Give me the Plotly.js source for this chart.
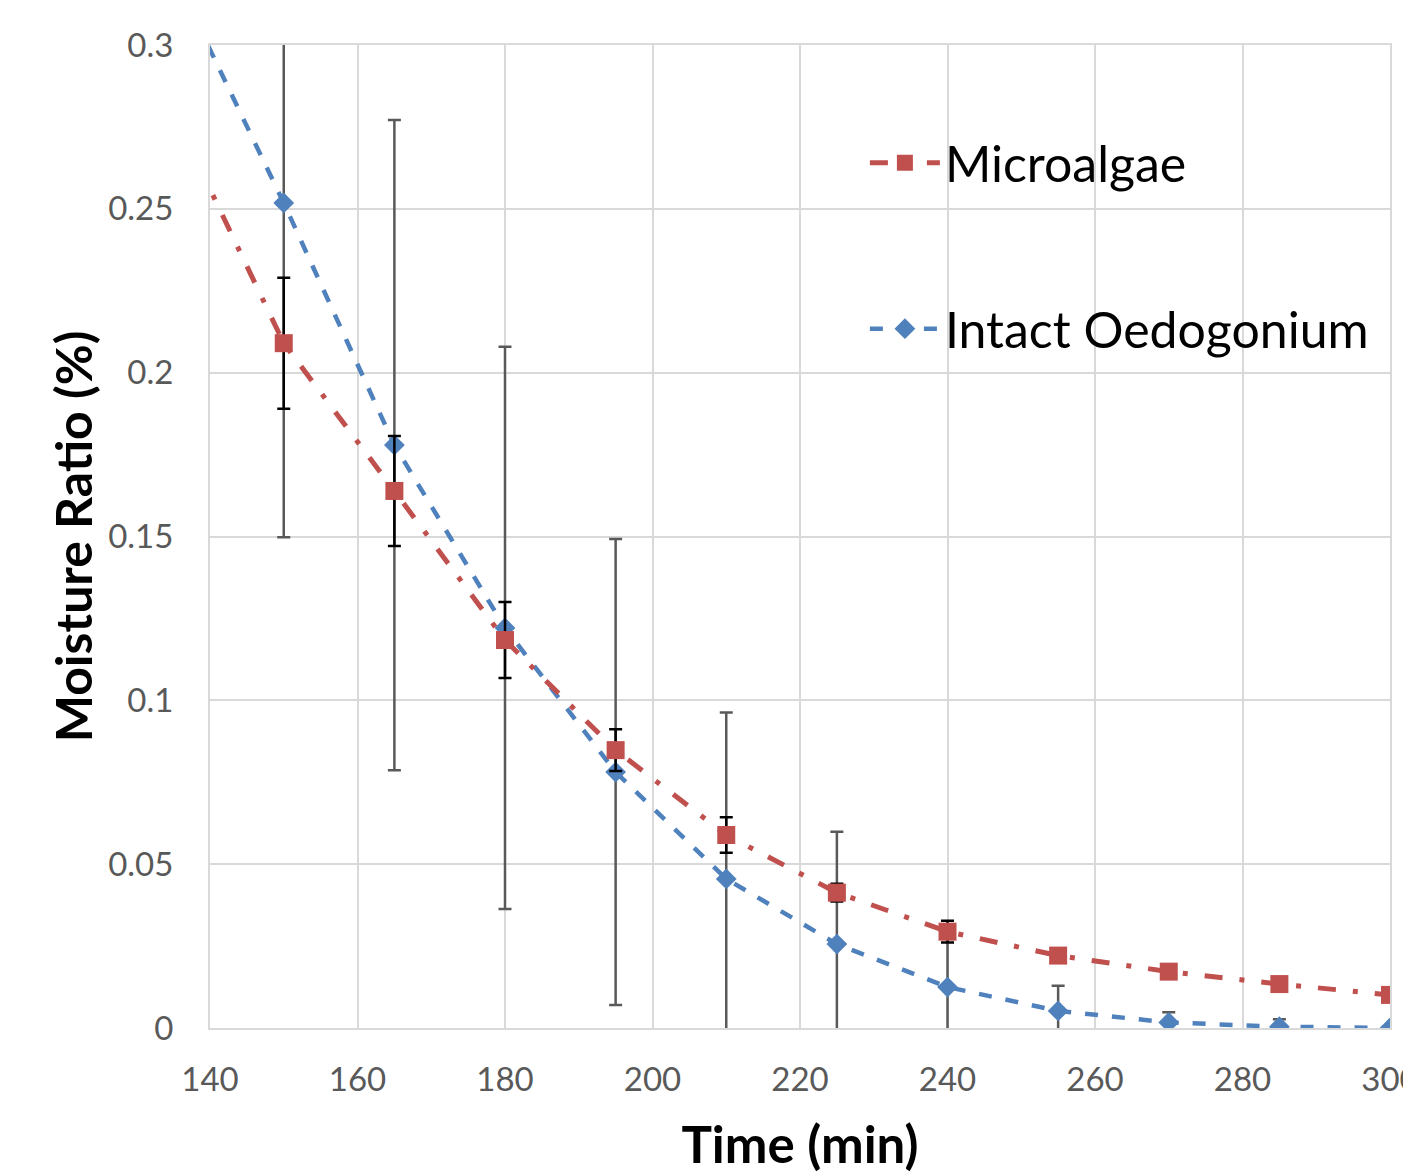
<!DOCTYPE html>
<html>
<head>
<meta charset="utf-8">
<script src="https://cdn.plot.ly/plotly-3.0.1.min.js"></script>
<style>
  html, body { margin: 0; padding: 0; background: #ffffff; }
  #chart { width: 1403px; height: 1174px; }
</style>
</head>
<body>
<div id="chart"></div>
<script>
// Drying time (min); the first sample (135) lies just left of the visible axis range
const time = [135, 150, 165, 180, 195, 210, 225, 240, 255, 270, 285, 300];

// Moisture ratio values
const microalgae    = [0.2795, 0.2090, 0.1639, 0.1184, 0.0848, 0.0589, 0.0413, 0.0294, 0.0221, 0.0172, 0.0134, 0.0101];
const microalgaeErr = [0.0,    0.0200, 0.0168, 0.0116, 0.0064, 0.0054, 0.0027, 0.0033, 0.0015, 0.0012, 0.0010, 0.0010];

const oedogonium    = [0.3220, 0.2518, 0.1779, 0.1221, 0.0781, 0.0455, 0.0256, 0.0125, 0.0052, 0.0017, 0.0004, 0.0];
const oedogoniumErr = [0.0,    0.1020, 0.0992, 0.0858, 0.0711, 0.0508, 0.0343, 0.0170, 0.0077, 0.0031, 0.0023, 0.0];

const seriesNames = ['Microalgae', 'Intact Oedogonium'];
const xTicks = [140, 160, 180, 200, 220, 240, 260, 280, 300];
const yTicks = [0, 0.05, 0.1, 0.15, 0.2, 0.25, 0.3];

const RED = '#C0504D';
const BLUE = '#4F81BD';
const FONT = 'Lato, "Open Sans", sans-serif';

const traces = [
  {
    x: time, y: oedogonium, name: seriesNames[1],
    type: 'scatter', mode: 'lines+markers',
    legendgroup: 'b', legendrank: 2,
    line: { color: BLUE, width: 4.5, dash: '13px,14px' },
    marker: { symbol: 'diamond', size: 16, color: BLUE },
    error_y: { type: 'data', array: oedogoniumErr, visible: true, color: '#595959', thickness: 2.5, width: 6.5 }
  },
  {
    x: time, y: microalgae, name: seriesNames[0],
    type: 'scatter', mode: 'lines+markers',
    legendgroup: 'a', legendrank: 1,
    line: { color: RED, width: 5, dash: '18px,17px,5px,17px' },
    marker: { symbol: 'square', size: 18, color: RED },
    error_y: { type: 'data', array: microalgaeErr, visible: true, color: '#000000', thickness: 2.5, width: 6.5 }
  }
];

const layout = {
  width: 1403, height: 1174,
  margin: { l: 210, r: 13, t: 45, b: 146, pad: 0 },
  paper_bgcolor: '#ffffff', plot_bgcolor: '#ffffff',
  font: { family: FONT, color: '#595959' },
  showlegend: true,
  legend: {
    x: 0.555, y: 0.92, xanchor: 'left', yanchor: 'top',
    bgcolor: 'rgba(0,0,0,0)',
    font: { family: FONT, size: 50, color: '#000000' },
    traceorder: 'grouped', tracegroupgap: 98,
    itemwidth: 70
  },
  xaxis: {
    range: [140, 300], tickvals: xTicks,
    showgrid: true, gridcolor: '#d9d9d9', gridwidth: 2,
    showline: true, linecolor: '#d9d9d9', linewidth: 2, mirror: true,
    zeroline: false, ticks: '',
    ticklabelstandoff: 21, ticklabeloverflow: 'allow',
    tickfont: { family: FONT, size: 33, color: '#595959' },
    title: { text: 'Time (min)', font: { family: FONT, size: 51, color: '#000000', weight: 'bold' }, standoff: 37 },
    automargin: false
  },
  yaxis: {
    range: [0, 0.3], tickvals: yTicks,
    showgrid: true, gridcolor: '#d9d9d9', gridwidth: 2,
    showline: true, linecolor: '#d9d9d9', linewidth: 2, mirror: true,
    zeroline: false, ticks: '',
    ticklabelstandoff: 28,
    tickfont: { family: FONT, size: 33, color: '#595959' },
    title: { text: 'Moisture Ratio (%)', font: { family: FONT, size: 50, color: '#000000', weight: 'bold' }, standoff: 0 },
    automargin: false
  }
};

Plotly.newPlot('chart', traces, layout, { displayModeBar: false, staticPlot: true });
</script>
</body>
</html>
